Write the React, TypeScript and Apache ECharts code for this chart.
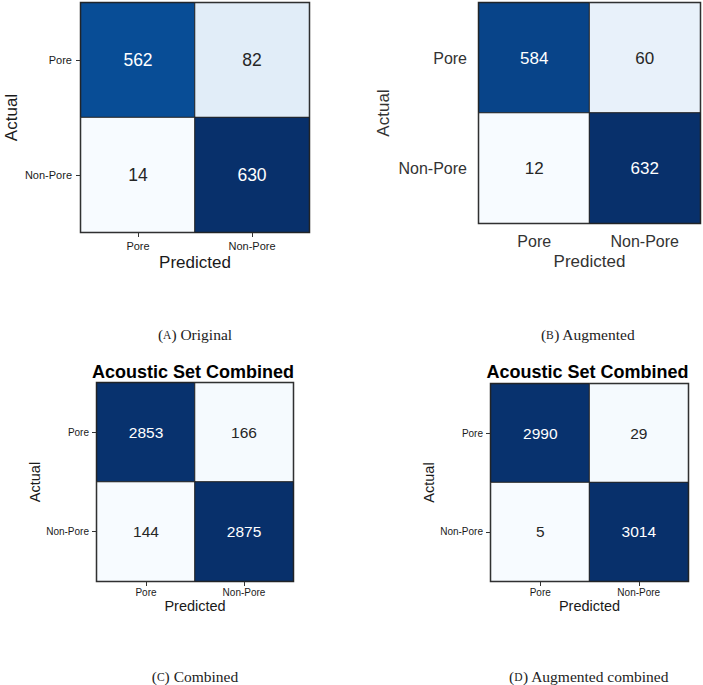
import React, { useEffect, useRef } from "react";
import * as echarts from "echarts";

// Class labels shared by every confusion matrix (rows: actual, columns: predicted)
const categories = ["Pore", "Non-Pore"];

// Confusion matrix counts, row = actual class, column = predicted class
const originalValues = [
  [562, 82],
  [14, 630],
];
const augmentedValues = [
  [584, 60],
  [12, 632],
];
const combinedValues = [
  [2853, 166],
  [144, 2875],
];
const augmentedCombinedValues = [
  [2990, 29],
  [5, 3014],
];

const panelTitles = ["", "", "Acoustic Set Combined", "Acoustic Set Combined"];
const captionLetters = ["A", "B", "C", "D"];
const captionTexts = ["Original", "Augmented", "Combined", "Augmented combined"];

// matplotlib "Blues" colormap stops
const blues = [
  "#f7fbff",
  "#deebf7",
  "#c6dbef",
  "#9ecae1",
  "#6baed6",
  "#4292c6",
  "#2171b5",
  "#08519c",
  "#08306b",
];

const FONT = "Liberation Sans, Arial, sans-serif";
const SERIF = "Liberation Serif, Times New Roman, serif";

type Panel = {
  values: number[][];
  grid: { left: number; top: number; width: number; height: number };
  tickFont: number;
  nameFont: number;
  cellFont: number;
  ticks: boolean;
  xLabelMargin: number;
  yLabelMargin: number;
  xNameGap: number;
  yNameGap: number;
  textColor: string;
  titleY: number;
  captionX: number;
  captionY: number;
};

const panels: Panel[] = [
  {
    values: originalValues,
    grid: { left: 81, top: 3, width: 228, height: 229 },
    tickFont: 11,
    nameFont: 17,
    cellFont: 17.5,
    ticks: true,
    xLabelMargin: 8,
    yLabelMargin: 9,
    xNameGap: 22,
    yNameGap: 61,
    textColor: "#1a1a1a",
    titleY: 0,
    captionX: 195,
    captionY: 333,
  },
  {
    values: augmentedValues,
    grid: { left: 479, top: 3, width: 221, height: 220 },
    tickFont: 16,
    nameFont: 17,
    cellFont: 17,
    ticks: false,
    xLabelMargin: 10,
    yLabelMargin: 12,
    xNameGap: 30,
    yNameGap: 87,
    textColor: "#333333",
    titleY: 0,
    captionX: 588,
    captionY: 333,
  },
  {
    values: combinedValues,
    grid: { left: 97, top: 383, width: 196, height: 198 },
    tickFont: 10,
    nameFont: 14.5,
    cellFont: 15.5,
    ticks: true,
    xLabelMargin: 6,
    yLabelMargin: 8,
    xNameGap: 17,
    yNameGap: 52,
    textColor: "#1a1a1a",
    titleY: 372,
    captionX: 195,
    captionY: 675,
  },
  {
    values: augmentedCombinedValues,
    grid: { left: 491, top: 384, width: 197, height: 197 },
    tickFont: 10,
    nameFont: 14.5,
    cellFont: 15.5,
    ticks: true,
    xLabelMargin: 6,
    yLabelMargin: 8,
    xNameGap: 17,
    yNameGap: 52,
    textColor: "#1a1a1a",
    titleY: 372,
    captionX: 589,
    captionY: 675,
  },
];

function buildOption() {
  const grid: any[] = [];
  const xAxis: any[] = [];
  const yAxis: any[] = [];
  const series: any[] = [];
  const visualMap: any[] = [];
  const graphic: any[] = [];

  panels.forEach((p, i) => {
    const flat = p.values.flat();
    const min = Math.min(...flat);
    const max = Math.max(...flat);

    grid.push({
      ...p.grid,
      show: true,
      borderColor: "#2b2b2b",
      borderWidth: 2.5,
      backgroundColor: "transparent",
      containLabel: false,
    });

    xAxis.push({
      type: "category",
      gridIndex: i,
      data: categories,
      position: "bottom",
      axisLine: { show: false },
      axisTick: {
        show: p.ticks,
        alignWithLabel: true,
        length: 5,
        lineStyle: { color: "#333", width: 1 },
      },
      axisLabel: {
        margin: p.xLabelMargin,
        fontSize: p.tickFont,
        fontFamily: FONT,
        color: p.textColor,
      },
      splitLine: { show: false },
      name: "Predicted",
      nameLocation: "middle",
      nameGap: p.xNameGap,
      nameTextStyle: { fontSize: p.nameFont, fontFamily: FONT, color: p.textColor },
    });

    yAxis.push({
      type: "category",
      gridIndex: i,
      data: categories,
      inverse: true,
      axisLine: { show: false },
      axisTick: {
        show: p.ticks,
        alignWithLabel: true,
        length: 5,
        lineStyle: { color: "#333", width: 1 },
      },
      axisLabel: {
        margin: p.yLabelMargin,
        fontSize: p.tickFont,
        fontFamily: FONT,
        color: p.textColor,
      },
      splitLine: { show: false },
      name: "Actual",
      nameLocation: "middle",
      nameGap: p.yNameGap,
      nameRotate: 90,
      nameTextStyle: { fontSize: p.nameFont, fontFamily: FONT, color: p.textColor },
    });

    const data: any[] = [];
    p.values.forEach((row, r) => {
      row.forEach((v, c) => {
        const t = (v - min) / (max - min);
        data.push({
          value: [c, r, v],
          label: { color: t > 0.5 ? "#ffffff" : "#262626" },
        });
      });
    });

    series.push({
      type: "heatmap",
      xAxisIndex: i,
      yAxisIndex: i,
      data,
      label: {
        show: true,
        fontSize: p.cellFont,
        fontFamily: FONT,
        formatter: (d: any) => String(d.value[2]),
      },
      itemStyle: { borderColor: "#222", borderWidth: 1 },
      emphasis: { disabled: true },
    });

    visualMap.push({
      type: "continuous",
      show: false,
      seriesIndex: i,
      dimension: 2,
      min,
      max,
      inRange: { color: blues },
    });

    if (panelTitles[i]) {
      graphic.push({
        type: "text",
        x: p.grid.left + p.grid.width / 2 - 2,
        y: p.titleY,
        style: {
          text: panelTitles[i],
          font: `bold 18px ${FONT}`,
          fill: "#000",
          textAlign: "center",
          textVerticalAlign: "middle",
        },
      });
    }

    // Sub-figure caption with a small-caps letter
    graphic.push({
      type: "text",
      x: p.captionX,
      y: p.captionY,
      style: {
        text: `{n|(}{sc|${captionLetters[i]}}{n|) ${captionTexts[i]}}`,
        fontFamily: SERIF,
        fontSize: 15.5,
        fill: "#222",
        textAlign: "center",
        textVerticalAlign: "middle",
        rich: {
          n: {
            fontFamily: SERIF,
            fontSize: 15.5,
            lineHeight: 18,
            verticalAlign: "bottom",
            fill: "#222",
          },
          sc: {
            fontFamily: SERIF,
            fontSize: 11.5,
            lineHeight: 18,
            verticalAlign: "bottom",
            padding: [0, 0, 1, 0],
            fill: "#222",
          },
        },
      },
    });
  });

  return {
    animation: false,
    backgroundColor: "#ffffff",
    grid,
    xAxis,
    yAxis,
    visualMap,
    series,
    graphic,
  };
}

export default function App() {
  const ref = useRef<HTMLDivElement>(null);

  useEffect(() => {
    if (!ref.current) return;
    const chart = echarts.init(ref.current, undefined, { renderer: "svg" });
    chart.setOption(buildOption());
    return () => chart.dispose();
  }, []);

  return (
    <div
      ref={ref}
      style={{ position: "absolute", left: 0, top: 0, width: 703, height: 685 }}
    />
  );
}
